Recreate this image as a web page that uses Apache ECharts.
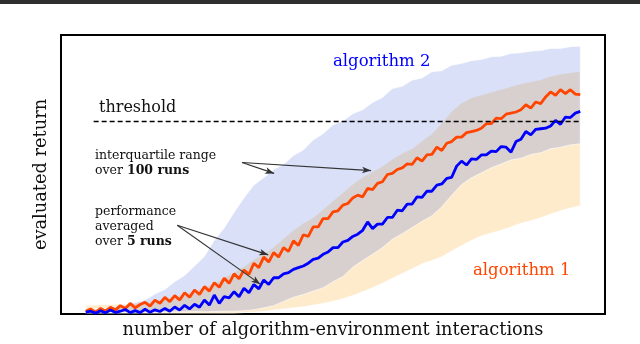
<!DOCTYPE html>
<html>
<head>
<meta charset="utf-8">
<script src="https://cdn.jsdelivr.net/npm/echarts@6/dist/echarts.min.js"></script>
<style>
  html, body { margin: 0; padding: 0; background: #fff; }
  #chart { width: 640px; height: 344px; }
</style>
</head>
<body>
<div id="chart"></div>
<script>
// x positions of the interquartile bands (every 2 steps) and of the mean curves
const bandX = [0,2,4,6,8,10,12,14,16,18,20,22,24,26,28,30,32,34,36,38,40,42,44,46,48,50,
  52,54,56,58,60,62,64,66,68,70,72,74,76,78,80,82,84,86,88,90,92,94,96,98,100];
const lineX = [0,1,2,3,4,5,6,7,8,9,10,11,12,13,14,15,16,17,18,19,20,21,22,23,24,25,26,27,28,29,
  30,31,32,33,34,35,36,37,38,39,40,41,42,43,44,45,46,47,48,49,50,51,52,53,54,55,56,57,58,59,
  60,61,62,63,64,65,66,67,68,69,70,71,72,73,74,75,76,77,78,79,80,81,82,83,84,85,86,87,88,89,
  90,91,92,93,94,95,96,97,98,99,100];

// algorithm 2 (blue) interquartile range
const alg2Upper = [1.5,1.8,2.1,2.7,3.2,4.1,5.0,7.2,8.8,11.6,13.8,17.2,20.6,26.4,30.8,36.4,41.6,46.2,
  48.8,51.8,53.6,56.8,58.8,62.4,64.6,67.8,69.2,71.8,73.2,75.8,77.6,80.8,81.6,83.8,84.6,86.8,87.2,
  89.2,89.8,90.8,91.2,92.2,92.4,93.4,93.6,94.2,94.4,95.2,95.2,95.8,96.0];
const alg2Lower = [0.5,0.6,0.5,0.7,0.6,0.7,0.6,0.8,0.7,0.8,0.8,0.9,0.8,0.9,1.0,1.0,1.2,1.5,2.2,
  3.0,4.5,6.0,7.0,8.2,9.4,11.6,13.4,16.8,19.2,21.4,23.8,26.8,28.8,31.0,33.2,35.2,38.4,42.6,46.4,
  48.8,50.6,52.4,53.8,55.2,55.8,57.2,57.8,59.2,59.8,60.6,61.0];

// algorithm 1 (orange) interquartile range
const alg1Upper = [3.0,3.2,3.4,3.5,3.6,3.8,4.2,4.8,5.5,6.3,7.2,8.2,9.5,11.0,13.0,15.0,17.0,19.5,
  21.5,24.0,27.0,30.0,32.5,34.5,37.5,40.5,43.5,46.5,49.0,51.0,53.0,55.5,57.6,59.2,62.0,64.6,68.4,
  72.6,75.6,77.5,78.5,79.5,80.5,81.5,82.5,83.2,84.0,85.2,86.0,86.5,87.0];
const alg1Lower = [0.3,0.3,0.3,0.3,0.3,0.3,0.3,0.3,0.3,0.3,0.3,0.3,0.3,0.3,0.3,0.3,0.5,0.7,1.0,
  1.4,1.8,2.2,2.6,3.2,3.8,4.6,5.5,6.6,8.0,9.4,11.0,12.8,14.5,16.2,18.0,19.2,20.5,22.6,24.5,26.4,
  28.0,29.0,30.0,31.2,32.5,33.4,34.5,35.8,37.0,38.0,38.8];

// performance averaged over 5 runs
const alg1Mean = [1.0,1.8,0.6,2.0,1.0,2.4,1.4,3.0,2.0,3.8,2.2,3.4,4.2,2.8,5.0,3.8,6.0,4.4,6.6,5.0,
  7.6,6.0,8.6,7.0,9.8,8.2,11.2,9.6,12.8,11.0,14.4,12.6,15.8,14.2,18.2,16.6,20.4,18.6,22.0,20.4,
  23.8,22.4,26.2,24.6,28.4,27.8,31.2,31.2,34.2,34.2,36.6,37.0,39.0,39.6,41.6,42.6,42.0,45.0,44.6,46.8,
  47.4,50.0,50.4,51.8,52.4,53.8,53.6,56.0,54.8,57.0,57.2,59.8,58.6,61.2,61.8,63.4,63.4,65.0,65.4,65.8,
  66.6,68.2,68.2,70.2,70.0,71.6,72.0,72.4,73.2,75.0,73.8,76.0,75.4,77.8,79.6,78.4,80.4,79.0,80.4,78.8,
  78.6];
const alg2Mean = [0.6,1.0,0.3,1.2,0.4,1.4,0.5,1.0,1.6,0.5,1.2,0.5,1.7,0.6,1.5,0.9,2.0,1.0,2.5,1.4,
  3.1,1.8,3.5,2.4,5.0,3.2,6.8,3.8,6.2,5.8,8.0,6.2,9.2,7.6,10.6,9.0,12.2,10.6,13.0,13.0,
  14.4,14.8,16.0,16.6,17.2,18.2,19.6,20.0,21.4,22.2,23.8,23.8,25.8,26.4,27.8,28.6,30.0,33.0,30.6,32.2,
  32.2,34.6,34.6,37.2,37.0,39.4,39.4,42.0,41.8,44.0,44.0,46.2,46.6,48.6,49.0,53.0,54.8,53.4,55.6,55.4,
  57.0,57.0,58.4,58.2,60.0,59.8,58.0,61.8,62.6,65.4,64.2,66.2,66.4,66.6,67.4,69.4,68.0,70.6,70.4,72.0,
  72.6];

const threshold = 69;

const palette = {
  ink: "#000000",
  text: "#111111",
  orange: "#ff4500",
  blue: "#0000ff",
  bandOrange: "rgba(245,155,0,0.2)",
  bandBlue: "rgba(65,100,215,0.2)",
};
const serif = "DejaVu Serif";

function pairs(xs, ys) {
  return xs.map((x, i) => [x, ys[i]]);
}

function bandSeries(name, upper, lower, fill) {
  return {
    name,
    type: "custom",
    silent: true,
    z: 1,
    data: [[bandX[0], upper[0]]],
    renderItem(params, api) {
      const top = upper.map((v, i) => api.coord([bandX[i], v]));
      const bottom = lower.map((v, i) => api.coord([bandX[i], v])).reverse();
      return {
        type: "polygon",
        shape: { points: top.concat(bottom) },
        style: { fill, stroke: "rgba(255,255,255,0.6)", lineWidth: 1 },
      };
    },
  };
}

function arrow(from, to) {
  return [
    { coord: from, symbol: "none" },
    { coord: to, symbol: "arrow", symbolSize: [5, 9] },
  ];
}

function label(x, y, text, size, fill) {
  return {
    type: "text", x, y,
    style: {
      text, fill,
      fontFamily: serif, fontSize: size, lineHeight: 15,
      verticalAlign: "middle", align: "left",
      rich: { b: { fontFamily: serif, fontSize: size, fontWeight: "bold", fill } },
    },
  };
}

const chart = echarts.init(document.getElementById("chart"), null, { renderer: "canvas" });
const hidden = { axisLabel: { show: false }, axisTick: { show: false }, axisLine: { show: false }, splitLine: { show: false } };

chart.setOption({
  animation: false,
  grid: { left: 61, right: 35, top: 35, bottom: 29, show: true, borderColor: palette.ink, borderWidth: 2 },
  xAxis: {
    type: "value", min: -5, max: 105, ...hidden,
    name: "number of algorithm-environment interactions",
    nameLocation: "middle", nameGap: 7,
    nameTextStyle: { fontFamily: serif, fontSize: 17.8, color: palette.text },
  },
  yAxis: {
    type: "value", min: 0, max: 100, ...hidden,
    name: "evaluated return",
    nameLocation: "middle", nameGap: 11,
    nameTextStyle: { fontFamily: serif, fontSize: 17.8, color: palette.text },
  },
  graphic: [
    { type: "rect", shape: { x: 0, y: 0, width: 640, height: 4 }, style: { fill: "#2e2e2e" } },
    label(333, 62, "algorithm 2", 16.5, palette.blue),
    label(473, 271, "algorithm 1", 16.5, palette.orange),
    label(99, 108, "threshold", 16, palette.text),
    label(95, 163.5, "interquartile range\nover {b|100 runs}", 12.5, palette.text),
    label(95, 227, "performance\naveraged\nover {b|5 runs}", 12.5, palette.text),
  ],
  series: [
    bandSeries("algorithm 1 IQR", alg1Upper, alg1Lower, palette.bandOrange),
    bandSeries("algorithm 2 IQR", alg2Upper, alg2Lower, palette.bandBlue),
    {
      name: "algorithm 1",
      type: "line",
      z: 3,
      showSymbol: false,
      lineStyle: { color: palette.orange, width: 2.8 },
      data: pairs(lineX, alg1Mean),
      markLine: {
        silent: true,
        symbol: "none",
        label: { show: false },
        lineStyle: { color: palette.ink, type: [5, 3], width: 1.3 },
        data: [[{ coord: [1.6, threshold] }, { coord: [100, threshold] }]],
      },
    },
    {
      name: "algorithm 2",
      type: "line",
      z: 4,
      showSymbol: false,
      lineStyle: { color: palette.blue, width: 2.8 },
      data: pairs(lineX, alg2Mean),
      markLine: {
        silent: true,
        label: { show: false },
        lineStyle: { color: "#333", type: "solid", width: 1.1 },
        itemStyle: { color: "#111" },
        data: [
          arrow([31.6, 54.3], [38.1, 50.4]),
          arrow([31.6, 54.3], [57.7, 51.4]),
          arrow([18.5, 31.8], [36.9, 21.2]),
          arrow([18.5, 31.8], [35.3, 10.7]),
        ],
      },
    },
  ],
});
</script>
</body>
</html>
